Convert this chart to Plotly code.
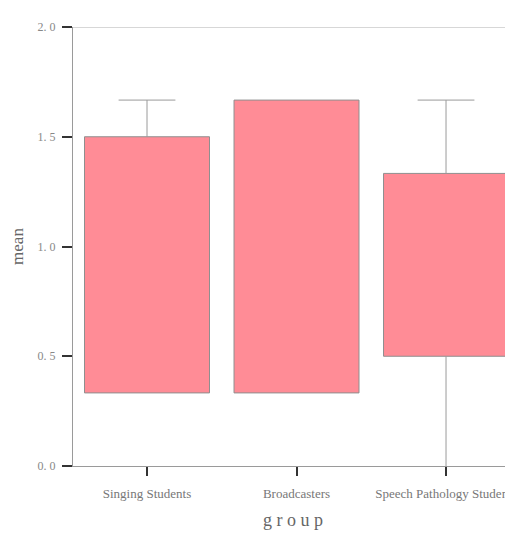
import plotly.graph_objects as go

groups = ["Singing Students", "Broadcasters", "Speech Pathology Students"]
box_low = [0.333, 0.333, 0.5]
box_high = [1.5, 1.667, 1.333]
whisker_low = [0.333, 0.333, 0.0]
whisker_high = [1.667, 1.667, 1.667]
y_ticks = [0.0, 0.5, 1.0, 1.5, 2.0]

xs = list(range(len(groups)))
fig = go.Figure()

# whiskers (drawn under the bars)
wx, wy = [], []
cap = 0.19
for i in xs:
    if whisker_high[i] > box_high[i]:
        wx += [i, i, None, i - cap, i + cap, None]
        wy += [box_high[i], whisker_high[i], None, whisker_high[i], whisker_high[i], None]
    if whisker_low[i] < box_low[i]:
        wx += [i, i, None]
        wy += [box_low[i], whisker_low[i], None]
fig.add_trace(go.Scatter(x=wx, y=wy, mode="lines",
                         line=dict(color="#9a9a9a", width=1),
                         hoverinfo="skip", showlegend=False))

fig.add_trace(go.Bar(
    x=xs, base=box_low,
    y=[h - l for h, l in zip(box_high, box_low)],
    width=0.836,
    marker=dict(color="#ff8c96", line=dict(color="#8f8f8f", width=1)),
    showlegend=False,
))

serif = "Liberation Serif"
fig.update_layout(
    width=505, height=525,
    margin=dict(l=65, r=0, t=19, b=67),
    paper_bgcolor="white", plot_bgcolor="white",
    font=dict(family=serif, color="#777777"),
    xaxis=dict(range=[-0.495, 2.448], tickvals=xs, ticktext=groups,
               automargin=False, ticklabeloverflow="allow",
               showgrid=False, zeroline=False, showline=True,
               linecolor="#9a9a9a", linewidth=1,
               ticks="outside", ticklen=9, tickwidth=2, tickcolor="#333333",
               ticklabelstandoff=6,
               tickfont=dict(family=serif, size=13, color="#777777")),
    yaxis=dict(range=[0, 2], tickvals=y_ticks,
               ticktext=[f"{v:.1f}".replace(".", ". ") for v in y_ticks],
               automargin=False,
               showgrid=False, zeroline=False, showline=True,
               linecolor="#9a9a9a", linewidth=1,
               ticks="outside", ticklen=10, tickwidth=2, tickcolor="#333333",
               ticklabelstandoff=4,
               tickfont=dict(family=serif, size=12, color="#888888"),
               title=dict(text="mean", font=dict(family=serif, size=17, color="#666666"),
                          standoff=14)),
    annotations=[dict(text="g r o u p", xref="paper", yref="paper", x=0.5, y=-0.122,
                      xanchor="center", yanchor="middle", showarrow=False,
                      font=dict(family=serif, size=18, color="#666666"))],
    shapes=[dict(type="line", xref="paper", yref="y", x0=0, x1=1, y0=2, y1=2,
                 line=dict(color="#b0b0b0", width=1))],
)

fig.write_html("out.html")
